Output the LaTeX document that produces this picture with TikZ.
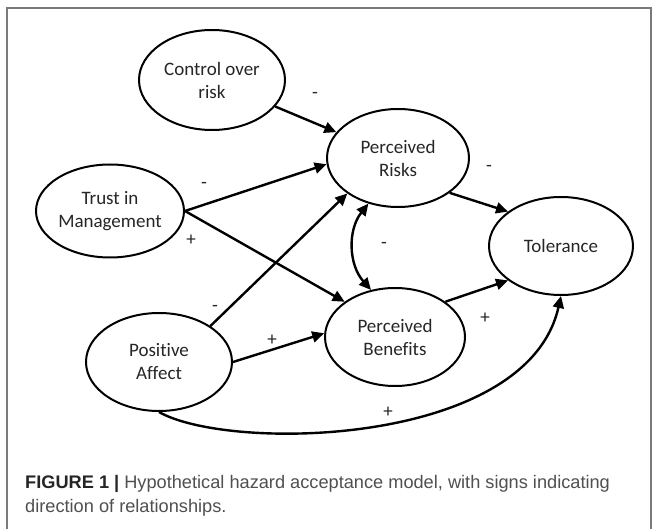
\documentclass[tikz,border=0pt]{standalone}
\usepackage{fontspec}
\setmainfont{Carlito}[Ligatures=CommonOff]
\newfontfamily\capfont{Liberation Sans}
\usetikzlibrary{shapes.geometric,arrows.meta}
\definecolor{frame}{HTML}{7A7A7A}
\definecolor{captxt}{HTML}{505050}
\definecolor{capbold}{HTML}{252525}
\definecolor{nodetxt}{HTML}{262626}
\begin{document}
\begin{tikzpicture}[x=1pt,y=-1pt,
  ell/.style={draw=black, line width=2pt, ellipse, inner sep=0pt},
  lbl/.style={font=\fontsize{19}{23}\selectfont, text=nodetxt, align=center, inner sep=0pt},
  sgn/.style={font=\fontsize{19}{23}\selectfont, text=nodetxt, inner sep=0pt},
  arr/.style={line width=2.4pt, -{Triangle[length=12pt,width=11pt]}},
  darr/.style={line width=2.4pt, {Triangle[length=12pt,width=11pt]}-{Triangle[length=12pt,width=11pt]}},
  capline/.style={anchor=base west, inner sep=0pt, font=\capfont\fontsize{18.2}{24}\selectfont, text=captxt},
]
\useasboundingbox (0,0) rectangle (657,529);
\fill[white] (0,0) rectangle (657,529);
\draw[frame, line width=1.3pt] (7,529) -- (7,8) -- (651,8) -- (651,529);

% ellipses
\node[ell, minimum width=146pt, minimum height=100pt] (ctrl) at (212,80) {};
\node[ell, minimum width=142pt, minimum height=98pt] (pr) at (398,158) {};
\node[ell, minimum width=148pt, minimum height=93pt] (tr) at (110,211) {};
\node[ell, minimum width=144pt, minimum height=98pt] (tol) at (561,246) {};
\node[ell, minimum width=140pt, minimum height=98pt] (pb) at (395,337) {};
\node[ell, minimum width=146pt, minimum height=98pt] (pa) at (159,362) {};

% texts
\node[lbl] (ctrl-t) at (ctrl.center) {Control over\\risk};
\node[lbl] (pr-t) at (pr.center) {Perceived\\Risks};
\node[lbl] (tr-t) at (tr.center) {Trust in\\Management};
\node[lbl] (tol-t) at (tol.center) {Tolerance};
\node[lbl] (pb-t) at (pb.center) {Perceived\\Benefits};
\node[lbl] (pa-t) at (pa.center) {Positive\\Affect};

% connectors
\draw[arr] (ctrl) -- (pr);
\draw[arr] (tr.east) -- (pr.185);
\draw[arr] (tr.east) -- (pb.145);
\draw[arr] (pa.35) -- (pr.215);
\draw[arr] (pa.east) -- (pb.177);
\draw[darr] (pr.237) to[bend right=40] (pb.117);
\draw[arr] (pr.-34) -- (tol.147);
\draw[arr] (pb.35) -- (tol.213);
\draw[arr] (pa.south) .. controls +(70,40) and +(-34,151) .. (tol.south);

% signs
\node[sgn] (s1) at (315,95) {-};
\node[sgn] (s2) at (204,185) {-};
\node[sgn] (s3) at (191,240) {+};
\node[sgn] (s4) at (215,308) {-};
\node[sgn] (s5) at (272,340) {+};
\node[sgn] (s6) at (384,245) {-};
\node[sgn] (s7) at (489,168) {-};
\node[sgn] (s8) at (485,318) {+};
\node[sgn] (s9) at (388,412) {+};

% caption
\node[capline] (cap1) at (25,489)
  {{\color{capbold}\bfseries FIGURE 1 |} Hypothetical hazard acceptance model, with signs indicating};
\node[capline] (cap2) at (25,513) {direction of relationships.};
\end{tikzpicture}
\end{document}
